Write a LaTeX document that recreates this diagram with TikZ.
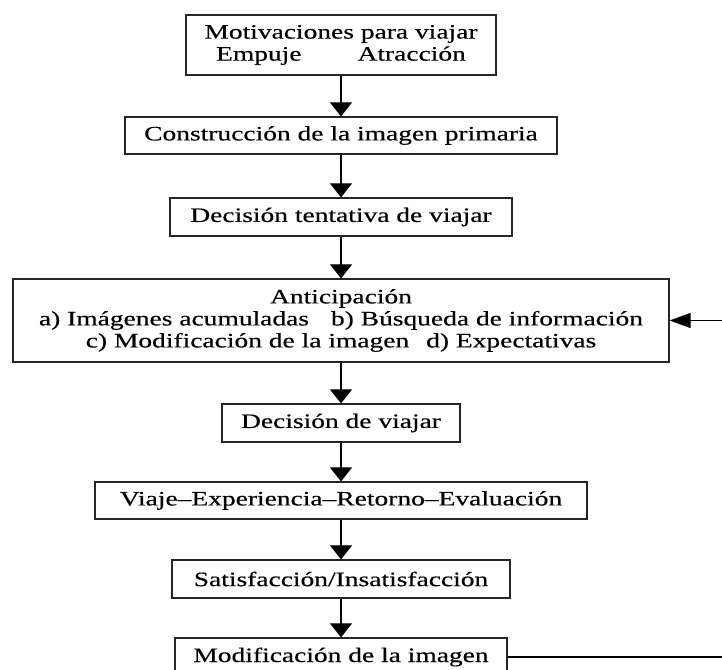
\documentclass[tikz,border=0pt]{standalone}
\usepackage{fontspec}
\setmainfont{Liberation Serif}[FakeStretch=1.34,FakeBold=0.4]
\usetikzlibrary{arrows.meta}
\begin{document}
\begin{tikzpicture}[x=1pt,y=-1pt,
  box/.style={draw=black!85, line width=1.2pt, inner sep=0pt, align=center,
    font=\fontsize{20.5}{22}\selectfont},
  link/.style={draw=black, line width=1.1pt, -{Triangle[width=22pt,length=14pt]}},
  back/.style={draw=black, line width=1.1pt, -{Triangle[width=15pt,length=21pt]}}]
\useasboundingbox (0,0) rectangle (722,669);
\clip (0,0) rectangle (722,669);

% process steps, top to bottom
\node[box, minimum width=310pt, minimum height=60pt] (b1) at (341,45)
  {Motivaciones para viajar\\Empuje\hspace{56pt}Atracción};
\node[box, minimum width=432pt, minimum height=37pt] (b2) at (341,135.5)
  {Construcción de la imagen primaria};
\node[box, minimum width=342pt, minimum height=38pt] (b3) at (341,217)
  {Decisión tentativa de viajar};
\node[box, minimum width=656pt, minimum height=83pt] (b4) at (341,320.5)
  {Anticipación\\a) Imágenes acumuladas\hspace{22pt}b) Búsqueda de información\\c) Modificación de la imagen\hspace{17pt}d) Expectativas};
\node[box, minimum width=238pt, minimum height=38pt] (b5) at (341,423)
  {Decisión de viajar};
\node[box, minimum width=492pt, minimum height=37pt] (b6) at (341,500.5)
  {Viaje–Experiencia–Retorno–Evaluación};
\node[box, minimum width=338pt, minimum height=38pt] (b7) at (341,579)
  {Satisfacción/Insatisfacción};
\node[box, minimum width=332pt, minimum height=38pt] (b8) at (341,657)
  {Modificación de la imagen};

% forward flow
\draw[link] (b1) -- (b2);
\draw[link] (b2) -- (b3);
\draw[link] (b3) -- (b4);
\draw[link] (b4) -- (b5);
\draw[link] (b5) -- (b6);
\draw[link] (b6) -- (b7);
\draw[link] (b7) -- (b8);

% feedback loop back to the anticipation stage
\coordinate (loop) at (740,657);
\draw[back] (b8.east) -- (loop) |- (b4.east);
\end{tikzpicture}
\end{document}
